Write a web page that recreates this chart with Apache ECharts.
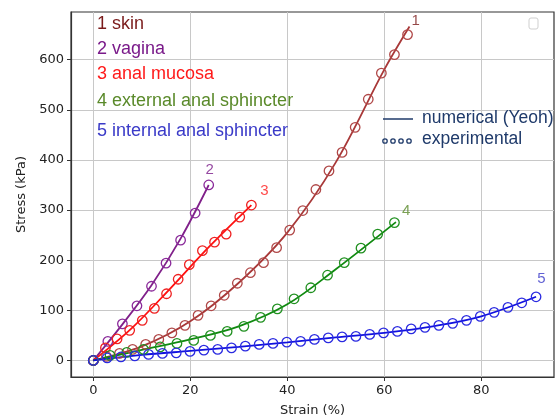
<!DOCTYPE html>
<html><head><meta charset="utf-8">
<script src="https://cdn.jsdelivr.net/npm/echarts@6/dist/echarts.min.js"></script>
<style>html,body{margin:0;padding:0;background:#fff}#c{width:560px;height:419px}</style>
</head><body><div id="c"></div>
<script>
// experimental points: [strain %, stress kPa]
const skinX = [0,2.7,5.4,8.1,10.8,13.5,16.2,18.9,21.6,24.3,27,29.7,32.4,35.1,37.8,40.5,43.2,45.9,48.6,51.3,54,56.7,59.4,62.1,64.8];
const skinY = [0,8,14,22,32,42,55,70,90,109,130,154,175,195,225,260,299,341,378,415,465,521,573,610,650];
const vagX = [0,3,6,9,12,15,18,21,23.8];
const vagY = [0,38,73,109,148,194,240,294,350];
const mucX = [0,2.5,4.9,7.5,10.1,12.6,15.1,17.5,19.8,22.5,25,27.4,30.2,32.6];
const mucY = [0,25,43,60,80,104,133,162,191,219,236,252,286,310];
const extX = [0,3.45,6.9,10.35,13.8,17.25,20.7,24.15,27.6,31.05,34.5,37.95,41.4,44.85,48.3,51.75,55.2,58.65,62.1];
const extY = [0,10,16,22,27,34,40,50,58,68,86,103,123,145,170,195,224,252,275];
const intX = [0,2.85,5.7,8.55,11.4,14.25,17.1,19.95,22.8,25.65,28.5,31.35,34.2,37.05,39.9,42.75,45.6,48.45,51.3,54.15,57,59.85,62.7,65.55,68.4,71.25,74.1,76.95,79.8,82.65,85.5,88.35,91.3];
const intY = [0,5,7,9,12,14,15,18,20.5,22,25,28.5,32,34,36.5,38,42,45,47,48,52,55,58,63,66,70,74,80,88,96,106,115,127];
// numerical (Yeoh) fit curves
const skinFitX = [0,10,20,30,40,50,60,65.2];
const skinFitY = [0,28,78,155,255,395,580,666];
const vagFitX = [0,6,12,18,23.8];
const vagFitY = [0,72,150,243,350];
const mucFitX = [0,8,16,24,32.6];
const mucFitY = [0,65,145,228,310];
const extFitX = [0,10,20,30,40,50,62.4];
const extFitY = [0,21,42,68,112,182,276];
const intFitX = [0,10,20,30,40,50,60,70,80,91.3];
const intFitY = [0,11,19,27,36,46,55,68,88,127];
// curve labels
const curveLabels = ['1','2','3','4','5'];
const curveLabelPos = [[66.5,678],[24,380],[35.3,338],[64.5,298],[92.4,163]];
const legendNames = ['1 skin','2 vagina','3 anal mucosa','4 external anal sphincter','5 internal anal sphincter'];
const xTicks = [0,20,40,60,80];
const yTicks = [0,100,200,300,400,500,600];

const lineColors = ['#a83838','#80208a','#ff1010','#108a10','#1010e0'];
const markColors = ['#b04848','#8a2a9a','#ee2020','#209020','#2a2ae0'];
const textColors = ['#7a1a1a','#7a1a8a','#ff1a1a','#5a8a2a','#3a3ac8'];

const zip = (a,b)=>a.map((v,i)=>[v,b[i]]);
const fits = [[skinFitX,skinFitY],[vagFitX,vagFitY],[mucFitX,mucFitY],[extFitX,extFitY],[intFitX,intFitY]];
const exps = [[skinX,skinY],[vagX,vagY],[mucX,mucY],[extX,extY],[intX,intY]];

const series = [];
fits.forEach((f,i)=>series.push({type:'line',data:zip(f[0],f[1]),smooth:0.35,showSymbol:false,symbol:'none',
  lineStyle:{color:lineColors[i],width:1.8},z:3,silent:true}));
exps.forEach((e,i)=>series.push({type:'scatter',data:zip(e[0],e[1]),symbol:'circle',symbolSize:9.5,
  itemStyle:{color:'rgba(255,255,255,0)',borderColor:markColors[i],borderWidth:1.3,opacity:1},z:4,silent:true}));
series.push({type:'scatter',symbolSize:0,silent:true,z:5,
  data:curveLabelPos.map((p,i)=>({value:p,label:{show:true,formatter:curveLabels[i],position:'inside',color:textColors[i],
  fontSize:15,fontFamily:'Liberation Sans'}}))});

const gfx = [];
legendNames.forEach((n,i)=>gfx.push({type:'text',left:97,top:[15,40,65,92,122][i],
  style:{text:n,fill:textColors[i],font:'18px "Liberation Sans"'},z:10}));
gfx.push({type:'line',shape:{x1:383,y1:119,x2:413,y2:119},style:{stroke:'#1f3a6a',lineWidth:1.5},z:10});
gfx.push({type:'text',left:422,top:109,style:{text:'numerical (Yeoh)',fill:'#1f3a6a',font:'17.5px "Liberation Sans"'},z:10});
[385,393,401,409].forEach(x=>gfx.push({type:'circle',shape:{cx:x,cy:141,r:2.2},style:{fill:'none',stroke:'#1f3a6a',lineWidth:1.3},z:10}));
gfx.push({type:'text',left:422,top:130,style:{text:'experimental',fill:'#1f3a6a',font:'17.5px "Liberation Sans"'},z:10});
gfx.push({type:'rect',shape:{x:529,y:18,width:9,height:11,r:2},style:{fill:'#fff',stroke:'#cfcfcf',lineWidth:1},z:10});

const chart = echarts.init(document.getElementById('c'),null,{renderer:'canvas'});
chart.setOption({
  animation:false,
  grid:{left:71,top:12,right:6,bottom:42,show:true,containLabel:false,outerBoundsMode:'none',
    borderColor:'#333',borderWidth:1.2,backgroundColor:'transparent'},
  xAxis:{type:'value',min:-4.6,max:95,name:'Strain (%)',nameLocation:'middle',nameGap:27,
    nameTextStyle:{fontFamily:'DejaVu Sans',fontSize:13,color:'#222'},
    axisLine:{show:true,onZero:false,lineStyle:{color:'#333',width:1.2}},
    axisTick:{show:true,length:4,lineStyle:{color:'#333'},customValues:xTicks},
    axisLabel:{customValues:xTicks,color:'#222',fontFamily:'DejaVu Sans',fontSize:13,margin:7},
    splitLine:{show:true,lineStyle:{color:'#c8c8c8',width:1}}},
  yAxis:{type:'value',min:-33,max:695,name:'Stress (kPa)',nameLocation:'middle',nameGap:42,
    nameTextStyle:{fontFamily:'DejaVu Sans',fontSize:13,color:'#222'},
    axisLine:{show:true,onZero:false,lineStyle:{color:'#333',width:1.2}},
    axisTick:{show:true,length:4,lineStyle:{color:'#333'},customValues:yTicks},
    axisLabel:{customValues:yTicks,color:'#222',fontFamily:'DejaVu Sans',fontSize:13,margin:7},
    splitLine:{show:true,lineStyle:{color:'#c8c8c8',width:1}}},
  graphic:gfx,
  series:series
});
</script></body></html>
